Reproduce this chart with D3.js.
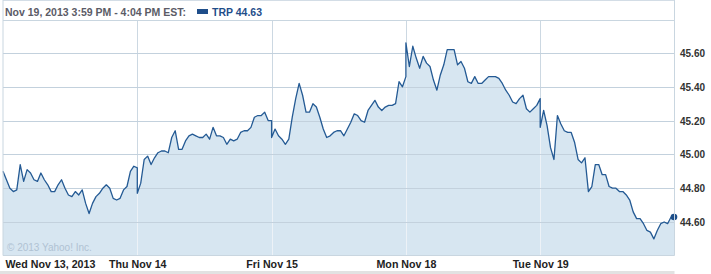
<!DOCTYPE html>
<html>
<head>
<meta charset="utf-8">
<script src="https://cdn.jsdelivr.net/npm/d3@7"></script>
<style>
  html, body { margin: 0; padding: 0; background: #ffffff; }
  svg { display: block; }
  .lbl { font-family: "Liberation Sans", Arial, sans-serif; font-weight: bold; }
</style>
</head>
<body>
<svg id="chart" width="711" height="274"></svg>
<script>
// ---- data (10-minute samples, 9:30 to 16:00, per trading day) ----
const dayLabels = ["Wed Nov 13, 2013", "Thu Nov 14", "Fri Nov 15", "Mon Nov 18", "Tue Nov 19"];
const wedPrices = [44.90,44.85,44.80,44.78,44.79,44.94,44.84,44.91,44.89,44.85,44.84,44.89,44.85,44.82,44.78,44.78,44.82,44.85,44.80,44.76,44.75,44.78,44.76,44.79,44.71,44.65,44.71,44.75,44.77,44.80,44.82,44.80,44.74,44.73,44.74,44.79,44.81,44.90,44.93,44.92];
const thuPrices = [44.77,44.83,44.97,44.99,44.94,44.98,45.01,45.02,45.02,45.01,45.10,45.14,45.03,45.03,45.08,45.11,45.12,45.11,45.10,45.10,45.12,45.09,45.16,45.11,45.11,45.10,45.06,45.09,45.08,45.09,45.13,45.14,45.14,45.16,45.22,45.23,45.23,45.25,45.20,45.20];
const friPrices = [45.10,45.15,45.11,45.09,45.06,45.09,45.22,45.33,45.42,45.35,45.25,45.25,45.30,45.28,45.22,45.15,45.10,45.11,45.13,45.14,45.14,45.11,45.15,45.19,45.24,45.23,45.20,45.19,45.26,45.29,45.32,45.28,45.26,45.28,45.29,45.29,45.30,45.43,45.40,45.46];
const monPrices = [45.66,45.52,45.64,45.57,45.51,45.58,45.54,45.52,45.44,45.38,45.47,45.53,45.62,45.62,45.62,45.53,45.55,45.51,45.43,45.42,45.46,45.42,45.42,45.44,45.46,45.46,45.46,45.45,45.42,45.38,45.35,45.31,45.30,45.33,45.35,45.27,45.25,45.27,45.29,45.33];
const tuePrices = [45.16,45.26,45.17,45.04,44.97,45.23,45.18,45.14,45.13,45.13,45.07,44.97,44.95,44.98,44.78,44.81,44.94,44.94,44.88,44.88,44.81,44.80,44.80,44.78,44.78,44.76,44.73,44.66,44.62,44.62,44.59,44.55,44.54,44.50,44.55,44.59,44.60,44.59,44.63,44.63];
const yTicks = [44.60, 44.80, 45.00, 45.20, 45.40, 45.60];
const headerText = "Nov 19, 2013 3:59 PM - 4:04 PM EST:";
const seriesLabel = "TRP 44.63";
const copyright = "\u00A9 2013 Yahoo! Inc.";

// ---- build points ----
const days = [wedPrices, thuPrices, friPrices, monPrices, tuePrices];
const points = [];
days.forEach((arr, d) => {
  arr.forEach((v, i) => points.push({ t: d + i / (arr.length - 1), v: v }));
});

// ---- layout ----
const L = 3, R = 674.5, T = 20.5, B = 255.5;
const x = d3.scaleLinear().domain([0, 5]).range([L, R]);
const y = d3.scaleLinear().domain([44.6, 45.6]).range([222, 53]);

const svg = d3.select("#chart");

// header
svg.append("line").attr("x1", L).attr("x2", R).attr("y1", 0.5).attr("y2", 0.5).attr("stroke", "#d3dde6");
svg.append("text").attr("class", "lbl").attr("x", 5).attr("y", 16)
  .attr("font-size", 10.5).attr("fill", "#5b5b66").text(headerText);
svg.append("rect").attr("x", 197).attr("y", 9).attr("width", 11).attr("height", 5).attr("fill", "#1f4e8a");
svg.append("text").attr("class", "lbl").attr("x", 212).attr("y", 16)
  .attr("font-size", 10.5).attr("fill", "#1f4e8a").text(seriesLabel);

// plot background
svg.append("rect").attr("x", L).attr("y", T).attr("width", R - L).attr("height", B - T).attr("fill", "#ffffff");

// vertical gridlines (day boundaries) in white region
const dayIdx = d3.range(1, 5);
svg.append("g").selectAll("line").data(dayIdx).join("line")
  .attr("x1", d => Math.round(x(d)) + 0.5).attr("x2", d => Math.round(x(d)) + 0.5)
  .attr("y1", T).attr("y2", B).attr("stroke", "#ccd8e2");

// area
const area = d3.area().x(d => x(d.t)).y0(B).y1(d => y(d.v)).curve(d3.curveLinear);
const line = d3.line().x(d => x(d.t)).y(d => y(d.v)).curve(d3.curveLinear);

svg.append("clipPath").attr("id", "areaClip").append("path").attr("d", area(points));
svg.append("path").attr("d", area(points)).attr("fill", "#d7e6f1");

// vertical gridlines lighter inside filled area
svg.append("g").attr("clip-path", "url(#areaClip)").selectAll("line").data(dayIdx).join("line")
  .attr("x1", d => Math.round(x(d)) + 0.5).attr("x2", d => Math.round(x(d)) + 0.5)
  .attr("y1", T).attr("y2", B).attr("stroke", "#edf2f7");

// horizontal gridlines via axis
const grid = svg.append("g").attr("transform", `translate(${L},0)`)
  .call(d3.axisRight(y).tickValues(yTicks).tickSize(R - L).tickFormat(""));
grid.select(".domain").remove();
grid.selectAll("line").attr("stroke", "#c3d1dd").attr("shape-rendering", "crispEdges");

// copyright
svg.append("text").attr("x", 7).attr("y", 251).attr("font-family", "Liberation Sans, Arial, sans-serif")
  .attr("font-size", 10).attr("fill", "#b0c2d3").text(copyright);

// price line
svg.append("path").attr("d", line(points)).attr("fill", "none")
  .attr("stroke", "#245a94").attr("stroke-width", 1.3).attr("stroke-linejoin", "round");

// end dot
const last = points[points.length - 1];
svg.append("circle").attr("cx", x(last.t) - 0.5).attr("cy", y(last.v)).attr("r", 3.3).attr("fill", "#1d4e89");

// borders
svg.append("line").attr("x1", L).attr("x2", R).attr("y1", T).attr("y2", T).attr("stroke", "#c9d6e0");
svg.append("line").attr("x1", L).attr("x2", L).attr("y1", 0).attr("y2", B).attr("stroke", "#c9d6e0");
svg.append("line").attr("x1", R).attr("x2", R).attr("y1", 0).attr("y2", B).attr("stroke", "#c9d6e0");
svg.append("line").attr("x1", L).attr("x2", R).attr("y1", B).attr("y2", B).attr("stroke", "#c9d6e0");

// y axis labels
const yAxis = svg.append("g").attr("transform", `translate(${R},0)`)
  .call(d3.axisRight(y).tickValues(yTicks).tickSize(0).tickPadding(0).tickFormat(d3.format(".2f")));
yAxis.select(".domain").remove();
yAxis.selectAll("text").attr("class", "lbl").attr("font-size", 11).attr("fill", "#333333")
  .attr("x", 0).attr("transform", "translate(5.5,0) scale(0.91,1)");

// x axis labels
const xAxis = svg.append("g").attr("transform", `translate(0,${B})`)
  .call(d3.axisBottom(x).tickValues(d3.range(0, 5)).tickSize(0).tickPadding(5).tickFormat((d, i) => dayLabels[i]));
xAxis.select(".domain").remove();
xAxis.selectAll("text").attr("class", "lbl").attr("font-size", 11).attr("fill", "#222222")
  .attr("text-anchor", (d) => d === 0 ? "start" : "middle")
  .attr("transform", (d) => d === 0 ? "translate(2,0) scale(0.97,1)" : "scale(0.97,1)");

// bottom grey band
svg.append("rect").attr("x", 0).attr("y", 271).attr("width", R).attr("height", 3).attr("fill", "#e2e2e2");
</script>
</body>
</html>
